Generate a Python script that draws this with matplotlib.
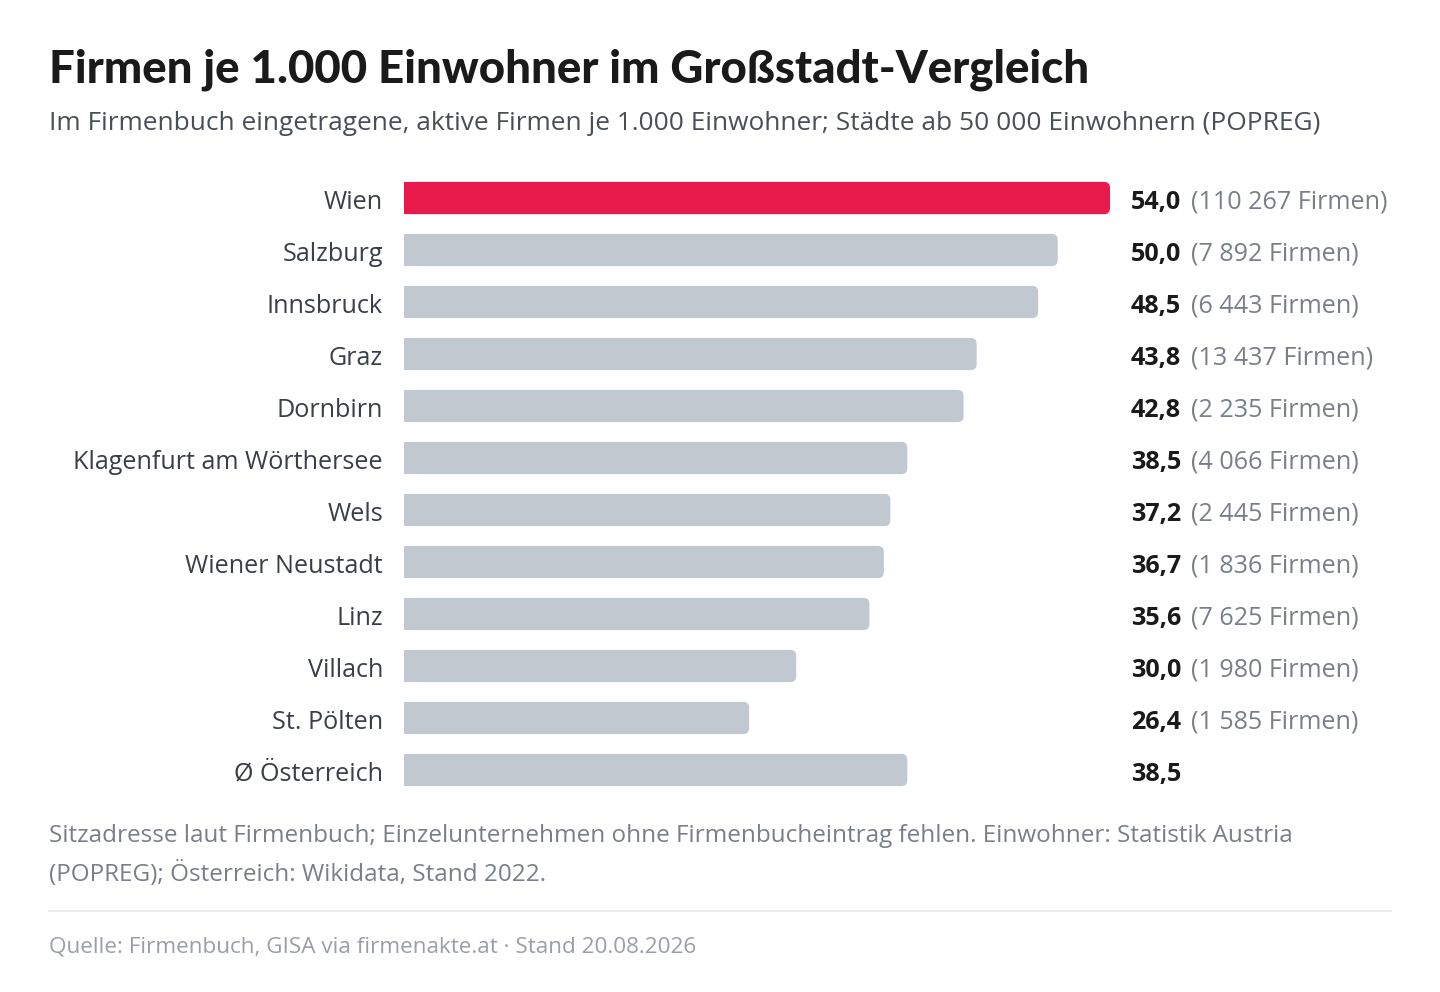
import matplotlib
matplotlib.use("Agg")
from matplotlib import pyplot as plt
from matplotlib.patches import FancyBboxPatch
import matplotlib.transforms as mtransforms

staedte = ["Wien", "Salzburg", "Innsbruck", "Graz", "Dornbirn", "Klagenfurt am Wörthersee",
           "Wels", "Wiener Neustadt", "Linz", "Villach", "St. Pölten", "Ø Österreich"]
werte = [54.0, 50.0, 48.5, 43.8, 42.8, 38.5, 37.2, 36.7, 35.6, 30.0, 26.4, 38.5]
firmen = ["110 267", "7 892", "6 443", "13 437", "2 235", "4 066", "2 445", "1 836",
          "7 625", "1 980", "1 585", None]

plt.rcParams['font.family'] = ['Open Sans', 'DejaVu Sans']

fig = plt.figure(figsize=(14.4, 9.92), dpi=100)
fig.patch.set_facecolor("white")
W, H = 1440, 992

ax = fig.add_axes([404 / W, 1 - 796 / H, (1110 - 404) / W, (796 - 172) / H])
ax.set_xlim(0, 54)
ax.set_ylim(len(staedte) - 0.5, -0.5)
ax.axis("off")

farben = ["#E8194B"] + ["#C2C8D0"] * (len(staedte) - 1)
bars = ax.barh(range(len(staedte)), werte, height=0.62, color=farben)

# rechte Ecken abrunden
px_x = 54 / (1110 - 404)
px_y = len(staedte) / (796 - 172)
asp = px_y / px_x
r = 6 * px_x
for b, c in zip(bars, farben):
    x0, y0, w, h = b.get_x(), b.get_y(), b.get_width(), b.get_height()
    b.set_visible(False)
    ax.add_patch(FancyBboxPatch((x0, y0), w - r, h, boxstyle="square,pad=0",
                                fc=c, ec="none"))
    ax.add_patch(FancyBboxPatch((x0 + r, y0 + r * asp), w - 2 * r, h - 2 * r * asp,
                                boxstyle="round,pad=%f,rounding_size=%f" % (r, r),
                                mutation_aspect=asp, fc=c, ec="none"))

trans_lab = mtransforms.blended_transform_factory(fig.transFigure, ax.transData)
for i, (s, v, f) in enumerate(zip(staedte, werte, firmen)):
    ax.text(383 / W, i + 0.08, s, transform=trans_lab, ha="right", va="center",
            fontsize=18.1, color="#3a3f47")
    t = ax.text(1131 / W, i + 0.08, ("%.1f" % v).replace(".", ","), transform=trans_lab,
                ha="left", va="center", fontsize=18.1, fontweight="bold", color="#1a1a1a")
    if f:
        ax.annotate("(%s Firmen)" % f, xy=(1, 0.5), xycoords=t, xytext=(10, 0),
                    textcoords="offset pixels", va="center", ha="left",
                    fontsize=18.1, color="#7a7f87")

fig.text(49 / W, 1 - 70 / H, "Firmen je 1.000 Einwohner im Großstadt-Vergleich",
         fontsize=32.9, fontweight="black", family=["Lato", "DejaVu Sans"],
         color="#1a1a1a", va="center", ha="left")
fig.text(49 / W, 1 - 123 / H,
         "Im Firmenbuch eingetragene, aktive Firmen je 1.000 Einwohner; Städte ab 50 000 Einwohnern (POPREG)",
         fontsize=18.9, color="#4a4f57", va="center", ha="left")

fig.text(49 / W, 1 - 836 / H,
         "Sitzadresse laut Firmenbuch; Einzelunternehmen ohne Firmenbucheintrag fehlen. Einwohner: Statistik Austria",
         fontsize=17.5, color="#7a7f87", va="center", ha="left")
fig.text(49 / W, 1 - 874 / H, "(POPREG); Österreich: Wikidata, Stand 2022.",
         fontsize=17.5, color="#7a7f87", va="center", ha="left")
fig.add_artist(plt.Line2D([49 / W, 1391 / W], [1 - 911 / H, 1 - 911 / H],
                          transform=fig.transFigure, color="#e6e8ec", lw=1.2))
fig.text(49 / W, 1 - 947 / H, "Quelle: Firmenbuch, GISA via firmenakte.at · Stand 20.08.2026",
         fontsize=16.2, color="#9a9ea6", va="center", ha="left")

fig.savefig("out.png", dpi=100, facecolor="white")
